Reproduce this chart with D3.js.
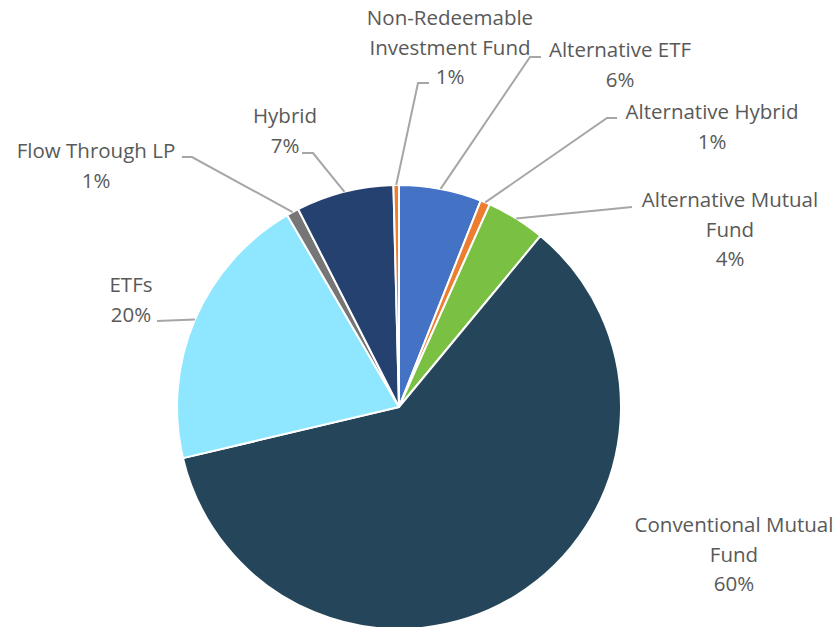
<!DOCTYPE html>
<html>
<head>
<meta charset="utf-8">
<script src="https://cdn.jsdelivr.net/npm/d3@7"></script>
<style>
  html, body { margin: 0; padding: 0; background: #fff; }
  svg text { font-family: "Open Sans", "Noto Sans", sans-serif; fill: #595959; }
</style>
</head>
<body>
<div id="chart"></div>
<script>
// fund types, in the order Excel draws them (clockwise from 12 o'clock)
const categories = [
    "Alternative ETF",
    "Alternative Hybrid",
    "Alternative Mutual Fund",
    "Conventional Mutual Fund",
    "ETFs",
    "Flow Through LP",
    "Hybrid",
    "Non-Redeemable Investment Fund"
];
// share of total, percent
const shares = [6.0, 0.7, 4.3, 60.3, 20.3, 0.9, 7.1, 0.4];
// text shown on each data label
const labelLines = [
    ["Alternative ETF", "6%"],
    ["Alternative Hybrid", "1%"],
    ["Alternative Mutual", "Fund", "4%"],
    ["Conventional Mutual", "Fund", "60%"],
    ["ETFs", "20%"],
    ["Flow Through LP", "1%"],
    ["Hybrid", "7%"],
    ["Non-Redeemable", "Investment Fund", "1%"]
];
const colors = ["#4472c4", "#ed7d31", "#7ac143", "#25465a", "#8fe7ff", "#767676", "#24416f", "#ed7d31"];

let w = 840;
let h = 627;
let cx = 399, cy = 407, r = 222;
let lineH = 29.5;

// where the data labels sit: x = text centre, y = first baseline,
// leader = bend points from the slice edge toward the text
const labelPos = [
    {x: 620, y: 57,  leader: [[530, 57], [541, 57]]},
    {x: 712, y: 119, leader: [[607, 118], [617, 118]]},
    {x: 730, y: 207, leader: [[632, 207]]},
    {x: 734, y: 532, leader: null},
    {x: 131, y: 292, leader: [[157, 321]]},
    {x: 96,  y: 158, leader: [[192, 157], [182, 157]]},
    {x: 285, y: 123, leader: [[313, 153], [302, 153]]},
    {x: 450, y: 25,  leader: [[418, 83], [429, 83]]}
];

let svg = d3.select("#chart")
    .append("svg")
    .attr("width", w)
    .attr("height", h);

let pie = d3.pie()
    .sort(null)
    .value((d) => d.value);

let data = categories.map((c, i) => ({name: c, value: shares[i], i: i}));
let arcs = pie(data);

let arc = d3.arc().innerRadius(0).outerRadius(r);
let edge = d3.arc().innerRadius(r).outerRadius(r);

let g = svg.append("g")
    .attr("transform", "translate(" + cx + "," + cy + ")");

g.selectAll("path.slice")
    .data(arcs)
    .enter()
    .append("path")
    .attr("class", "slice")
    .attr("d", arc)
    .attr("fill", (d) => colors[d.data.i])
    .attr("stroke", "#fff")
    .attr("stroke-width", 2)
    .attr("stroke-linejoin", "round");

// leader lines
let line = d3.line();
arcs.forEach((d) => {
    let p = labelPos[d.data.i];
    if (!p.leader) return;
    let c = edge.centroid(d);
    let pts = [[c[0] + cx, c[1] + cy]].concat(p.leader);
    svg.append("path")
        .attr("d", line(pts))
        .attr("fill", "none")
        .attr("stroke", "#a6a6a6")
        .attr("stroke-width", 2);
});

// data labels
arcs.forEach((d) => {
    let p = labelPos[d.data.i];
    let t = svg.append("text")
        .attr("text-anchor", "middle")
        .attr("font-size", "20.5px");
    labelLines[d.data.i].forEach((s, k) => {
        t.append("tspan")
            .attr("x", p.x)
            .attr("y", p.y + k * lineH)
            .text(s);
    });
});
</script>
</body>
</html>
